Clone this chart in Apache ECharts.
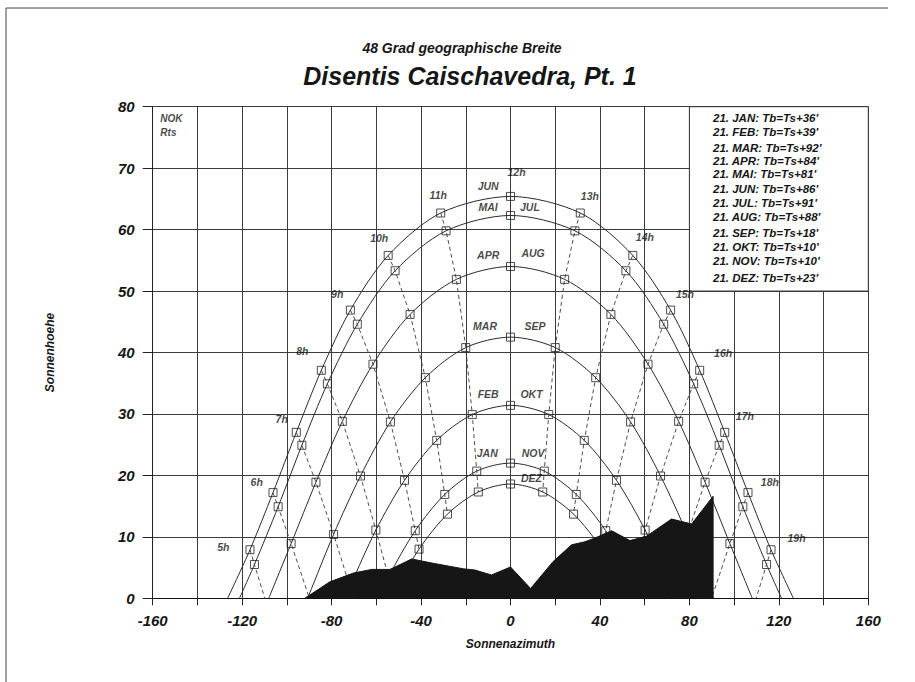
<!DOCTYPE html>
<html><head><meta charset="utf-8">
<script src="https://cdn.jsdelivr.net/npm/echarts/dist/echarts.min.js"></script>
<style>html,body{margin:0;padding:0;background:#fff}#c{width:915px;height:682px}</style>
</head><body><div id="c"></div>
<script>
// ---- data (solar hours 5h..19h) ----
const HOURS = ['5h','6h','7h','8h','9h','10h','11h','12h','13h','14h','15h','16h','17h','18h','19h'];
const MONTHS = ['JUN','MAI/JUL','APR/AUG','MAR/SEP','FEB/OKT','JAN/NOV','DEZ'];
const JUN_AZ  = [-116.5,-106.2,-95.8,-84.6,-71.6,-54.7,-31.2,0,31.2,54.7,71.6,84.6,95.8,106.2,116.5];
const JUN_ALT = [7.9,17.2,27.0,37.1,46.9,55.8,62.7,65.4,62.7,55.8,46.9,37.1,27.0,17.2,7.9];
const MAI_AZ  = [-114.5,-103.9,-93.3,-81.9,-68.5,-51.6,-28.8,0,28.8,51.6,68.5,81.9,93.3,103.9,114.5];
const MAI_ALT = [5.5,14.9,24.9,34.9,44.6,53.3,59.8,62.3,59.8,53.3,44.6,34.9,24.9,14.9,5.5];
const APR_AZ  = [-109.1,-98.1,-87.0,-75.2,-61.5,-44.9,-24.2,0,24.2,44.9,61.5,75.2,87.0,98.1,109.1];
const APR_ALT = [-0.9,8.9,18.9,28.8,38.1,46.2,51.9,54.0,51.9,46.2,38.1,28.8,18.9,8.9,-0.9];
const MAR_AZ  = [null,-90.3,-79.1,-67.1,-53.7,-38.1,-20.0,0,20.0,38.1,53.7,67.1,79.1,90.3,null];
const MAR_ALT = [null,0.4,10.4,19.9,28.7,35.9,40.8,42.5,40.8,35.9,28.7,19.9,10.4,0.4,null];
const FEB_AZ  = [null,-82.9,-71.8,-60.2,-47.4,-33.0,-17.1,0,17.1,33.0,47.4,60.2,71.8,82.9,null];
const FEB_ALT = [null,-7.9,1.9,11.1,19.2,25.7,29.9,31.4,29.9,25.7,19.2,11.1,1.9,-7.9,null];
const JAN_AZ  = [null,null,-65.7,-54.6,-42.6,-29.4,-15.1,0,15.1,29.4,42.6,54.6,65.7,null,null];
const JAN_ALT = [null,null,-5.3,3.5,11.0,16.9,20.7,22.0,20.7,16.9,11.0,3.5,-5.3,null,null];
const DEZ_AZ  = [null,null,null,-52.6,-40.9,-28.2,-14.4,0,14.4,28.2,40.9,52.6,null,null,null];
const DEZ_ALT = [null,null,null,0.7,8.0,13.7,17.3,18.6,17.3,13.7,8.0,0.7,null,null,null];
const RISE_AZ = [-126.5,-121.2,-108.1,-90.8,-74.0,-59.3,-53.5];
const SET_AZ  = [126.5,121.2,108.1,90.8,74.0,59.3,53.5];

const TERRAIN_AZ  = [-92,-80.7,-70.3,-62.1,-53.9,-44.2,-34.6,-21.1,-15.9,-8.5,0,9.0,19.1,27.3,33.3,37.7,45.2,53.4,60.8,72.0,81.0,90.6,90.6];
const TERRAIN_ALT = [0,2.7,4.1,4.7,4.7,6.4,5.7,4.8,4.6,3.8,5.1,1.6,6.0,8.7,9.2,9.8,11.0,9.4,10.1,12.9,12.1,16.6,0];

const HOUR_LABELS = ['5h','6h','7h','8h','9h','10h','11h','12h','13h','14h','15h','16h','17h','18h','19h'];
const HOUR_LABEL_AZ  = [-128.4,-113.5,-102.3,-93.1,-77.5,-58.7,-32.3,2.7,35.5,60.1,78.0,95.1,104.8,116.0,127.9];
const HOUR_LABEL_ALT = [8.3,19.0,29.2,40.3,49.5,58.7,65.7,69.4,65.5,58.8,49.6,39.9,29.7,19.0,9.8];
const MONTH_LABELS = ['JUN','MAI','JUL','APR','AUG','MAR','SEP','FEB','OKT','JAN','NOV','DEZ'];
const MONTH_LABEL_AZ  = [-10,-10,8.7,-10,10.1,-11.4,10.9,-10,9.4,-10.4,10.1,9.4];
const MONTH_LABEL_ALT = [67.1,63.7,63.7,55.9,56.2,44.3,44.3,33.2,33.2,23.6,23.6,19.5];
const CORNER_LABELS = ['NOK','Rts'];
const NOTE_LINES = ["21. JAN: Tb=Ts+36'","21. FEB: Tb=Ts+39'","21. MAR: Tb=Ts+92'","21. APR: Tb=Ts+84'","21. MAI: Tb=Ts+81'","21. JUN: Tb=Ts+86'","21. JUL: Tb=Ts+91'","21. AUG: Tb=Ts+88'","21. SEP: Tb=Ts+18'","21. OKT: Tb=Ts+10'","21. NOV: Tb=Ts+10'","21. DEZ: Tb=Ts+23'"];
const SUBTITLE = '48 Grad geographische Breite';
const TITLE = 'Disentis Caischavedra, Pt. 1';
const X_NAME = 'Sonnenazimuth';
const Y_NAME = 'Sonnenhoehe';

// ---- build ----
const AZ = [JUN_AZ, MAI_AZ, APR_AZ, MAR_AZ, FEB_AZ, JAN_AZ, DEZ_AZ];
const ALT = [JUN_ALT, MAI_ALT, APR_ALT, MAR_ALT, FEB_ALT, JAN_ALT, DEZ_ALT];
const FONT = '"Liberation Sans", Arial, sans-serif';
function tx(size){ return {fontFamily: FONT, fontStyle: 'italic', fontWeight: 'bold', fontSize: size, color: '#161616'}; }

const series = [];
MONTHS.forEach((m, i) => {
  const d = [[RISE_AZ[i], 0]];
  for (let k = 0; k < HOURS.length; k++) {
    if (AZ[i][k] !== null && ALT[i][k] >= 0) d.push([AZ[i][k], ALT[i][k]]);
  }
  d.push([SET_AZ[i], 0]);
  series.push({type:'line', name:m, data:d, smooth:0.3, symbol:'none', z:2, silent:true,
    lineStyle:{color:'#2a2a2a', width:1}});
});
HOURS.forEach((h, k) => {
  const d = [];
  for (let i = 0; i < MONTHS.length; i++) {
    if (AZ[i][k] === null) break;
    d.push([AZ[i][k], ALT[i][k]]);
    if (ALT[i][k] < 0) break;
  }
  series.push({type:'line', name:h, data:d, symbol:'none', z:2, silent:true, clip:true,
    lineStyle:{color:'#3a3a3a', width:0.9, type:[4,3]}});
});
const marks = [];
for (let i = 0; i < MONTHS.length; i++) for (let k = 0; k < HOURS.length; k++) {
  if (AZ[i][k] !== null && ALT[i][k] > 1) marks.push([AZ[i][k], ALT[i][k]]);
}
series.push({type:'scatter', data:marks, symbol:'rect', symbolSize:8, z:3, silent:true,
  itemStyle:{color:'rgba(255,255,255,0)', borderColor:'#222', borderWidth:1}});
series.push({type:'line', data:TERRAIN_AZ.map((a,i)=>[a, TERRAIN_ALT[i]]), symbol:'none', z:5, silent:true,
  lineStyle:{color:'#161616', width:1}, areaStyle:{color:'#161616', opacity:1}});
series.push({type:'scatter', symbolSize:1, z:6, silent:true, itemStyle:{color:'rgba(0,0,0,0)'},
  data: HOUR_LABELS.map((t,i)=>({name:t, value:[HOUR_LABEL_AZ[i], HOUR_LABEL_ALT[i]]})),
  label:{show:true, position:'inside', formatter:'{b}', ...tx(10.5)}});
series.push({type:'scatter', symbolSize:1, z:6, silent:true, itemStyle:{color:'rgba(0,0,0,0)'},
  data: MONTH_LABELS.map((t,i)=>({name:t, value:[MONTH_LABEL_AZ[i], MONTH_LABEL_ALT[i]]})),
  label:{show:true, position:'inside', formatter:'{b}', ...tx(10.5)}});
series.push({type:'scatter', symbolSize:1, z:6, silent:true, itemStyle:{color:'rgba(0,0,0,0)'},
  data: [{name:CORNER_LABELS[0], value:[-156.8, 78.0]}, {name:CORNER_LABELS[1], value:[-156.8, 75.8]}],
  label:{show:true, position:'right', distance:0, formatter:'{b}', ...tx(10)},
  markArea:{silent:true, itemStyle:{color:'#fff', borderColor:'#333', borderWidth:1},
    data:[[{coord:[80,80]},{coord:[160,50]}]]}});

const NOTE_Y = [118.3,132.3,147.7,161,174,189.3,203.3,217.3,233.3,246.7,261,277.7];
const graphic = [
  {type:'text', z:100, style:{x:462, y:48, text:SUBTITLE, textAlign:'center', textVerticalAlign:'middle', font:'italic bold 14px ' + FONT, fill:'#161616'}},
  {type:'text', z:100, style:{x:470, y:76, text:TITLE, textAlign:'center', textVerticalAlign:'middle', font:'italic bold 25px ' + FONT, fill:'#161616'}},
  {type:'polyline', z:100, shape:{points:[[6,682],[6,8],[888,8]]}, style:{stroke:'#444', lineWidth:1, fill:null}}
];
NOTE_LINES.forEach((t,i)=>graphic.push({type:'text', z:100, style:{x:713, y:NOTE_Y[i], text:t, textAlign:'left', textVerticalAlign:'middle', font:'italic bold 11.5px ' + FONT, fill:'#161616'}}));

const chart = echarts.init(document.getElementById('c'), null, {renderer:'svg'});
chart.setOption({
  animation:false,
  backgroundColor:'#fff',
  grid:{left:152.7, right:46.7, top:106.7, bottom:83.7, containLabel:false},
  xAxis:{type:'value', min:-160, max:160, interval:20,
    name:X_NAME, nameLocation:'middle', nameGap:40, nameTextStyle:tx(12),
    axisLine:{show:true, onZero:false, lineStyle:{color:'#111', width:1.2}},
    axisTick:{show:true, length:7, lineStyle:{color:'#222'}},
    axisLabel:{margin:15, ...tx(15), formatter:(v)=> (Math.round(v) % 40 === 0 ? String(v) : '')},
    splitLine:{show:true, lineStyle:{color:'#3c3c3c', width:1}}},
  yAxis:{type:'value', min:0, max:80, interval:10,
    name:Y_NAME, nameLocation:'middle', nameGap:97, nameRotate:90, nameTextStyle:tx(12),
    axisLine:{show:true, onZero:false, lineStyle:{color:'#222', width:1}},
    axisTick:{show:true, length:10, lineStyle:{color:'#222'}},
    axisLabel:{margin:18, ...tx(15)},
    splitLine:{show:true, lineStyle:{color:'#3c3c3c', width:1}}},
  graphic: graphic,
  series: series
});
</script></body></html>
